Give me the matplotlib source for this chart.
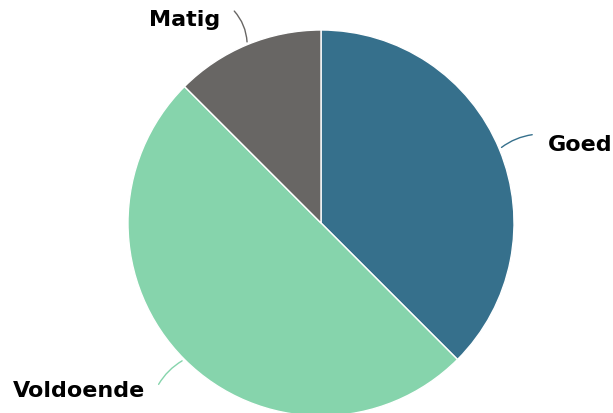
import numpy as np
import matplotlib
matplotlib.use("Agg")
import matplotlib.pyplot as plt

# Chart data
labels = ["Goed", "Voldoende", "Matig"]
values = [37.5, 50.0, 12.5]
colors = ["#36708c", "#86d4ac", "#686664"]

W, H = 613, 414
fig = plt.figure(figsize=(W / 100, H / 100), dpi=100)
ax = fig.add_axes([0, 0, 1, 1])

cx, cy, r = 321, 190, 193
wedges, _ = ax.pie(values, colors=colors, startangle=90, counterclock=False,
                   center=(cx, cy), radius=r, frame=True,
                   wedgeprops=dict(edgecolor="white", linewidth=1))
ax.set_xlim(0, W)
ax.set_ylim(0, H)
ax.set_aspect("equal")
ax.axis("off")

# label offsets (dx, dy) from the end of each connector line
rads = {"Goed": 0.15, "Voldoende": -0.15, "Matig": -0.2}
offs = {"Goed": (13, -10), "Voldoende": (-12, -3), "Matig": (-12, -10)}
for w, lab, col in zip(wedges, labels, colors):
    ang = np.deg2rad((w.theta1 + w.theta2) / 2)
    x0, y0 = cx + r * np.cos(ang), cy + r * np.sin(ang)
    x1, y1 = cx + 1.2 * r * np.cos(ang), cy + 1.2 * r * np.sin(ang)
    ax.annotate("", xy=(x0, y0), xytext=(x1, y1),
                arrowprops=dict(arrowstyle="-", color=col, lw=1,
                                connectionstyle=f"arc3,rad={rads[lab]}"))
    dx, dy = offs[lab]
    ax.text(x1 + dx, y1 + dy, lab, ha="left" if dx > 0 else "right",
            va="center", fontsize=16, fontweight="bold", color="black")

fig.savefig("out.png", dpi=100)
